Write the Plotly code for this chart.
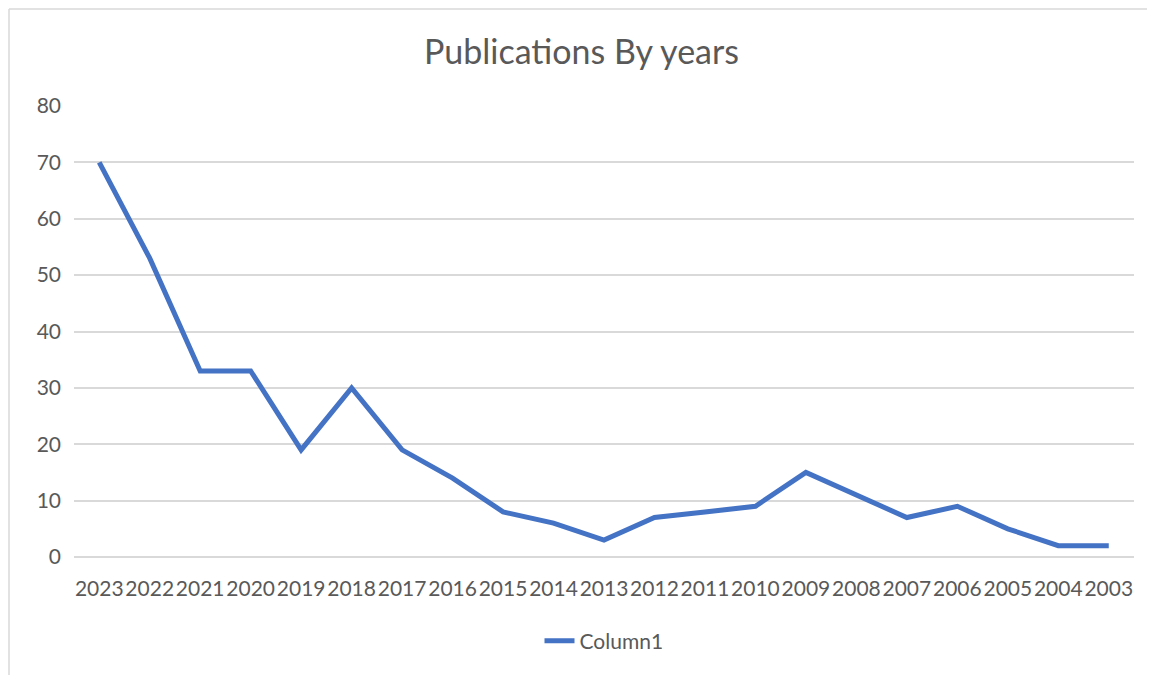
import plotly.graph_objects as go

years = ["2023", "2022", "2021", "2020", "2019", "2018", "2017", "2016", "2015", "2014",
         "2013", "2012", "2011", "2010", "2009", "2008", "2007", "2006", "2005", "2004", "2003"]
publications = [70, 53, 33, 33, 19, 30, 19, 14, 8, 6, 3, 7, 8, 9, 15, 11, 7, 9, 5, 2, 2]
series_name = "Column1"
title_text = "Publications By years"

FONT = "Lato, 'Open Sans', sans-serif"
TXT = "#595959"
GRID = "#d9d9d9"

fig = go.Figure()
fig.add_trace(go.Scatter(
    x=years, y=publications, mode="lines", name=series_name,
    line=dict(color="#4472C4", width=5, shape="linear"),
))

OFF = 8  # page body margin
W, H = 1155 - OFF, 675 - OFF
L, R, T, B = 74 - OFF, 21, 106 - OFF, 118
pw = W - L - R
ph = H - T - B

def px_x(p):
    return (p - OFF - L) / pw

def px_y(p):
    return (H - B - (p - OFF)) / ph

border = dict(color=GRID, width=1.5)
fig.update_layout(
    width=W, height=H,
    margin=dict(l=L, r=R, t=T, b=B),
    paper_bgcolor="white", plot_bgcolor="white",
    font=dict(family=FONT, color=TXT, size=21),
    title=dict(text=title_text, x=0.5, xanchor="center", y=1 - (52 - OFF) / H, yanchor="middle",
               font=dict(size=34, color=TXT, family=FONT)),
    showlegend=True,
    legend=dict(orientation="h", x=0.5, xanchor="center", y=px_y(641), yanchor="middle",
                font=dict(size=21, color=TXT, family=FONT), bgcolor="rgba(0,0,0,0)"),
    xaxis=dict(type="category", range=[-0.5, len(years) - 0.5], showgrid=False,
               showline=False, zeroline=False, ticks="", tickfont=dict(size=21, color=TXT),
               ticklabelstandoff=17, tickangle=0, automargin=False),
    yaxis=dict(range=[0, 80], dtick=10, showgrid=True, gridcolor=GRID, gridwidth=1.5,
               zeroline=True, zerolinecolor=GRID, zerolinewidth=1.5, showline=False,
               ticks="", tickfont=dict(size=21, color=TXT), ticklabelstandoff=12,
               automargin=False),
    shapes=[
        dict(type="line", xref="paper", yref="paper",
             x0=px_x(9), x1=px_x(9), y0=px_y(800), y1=px_y(9), line=border, layer="below"),
        dict(type="line", xref="paper", yref="paper",
             x0=px_x(9), x1=px_x(1300), y0=px_y(9), y1=px_y(9), line=border, layer="below"),
    ],
)

fig.write_html("out.html")
